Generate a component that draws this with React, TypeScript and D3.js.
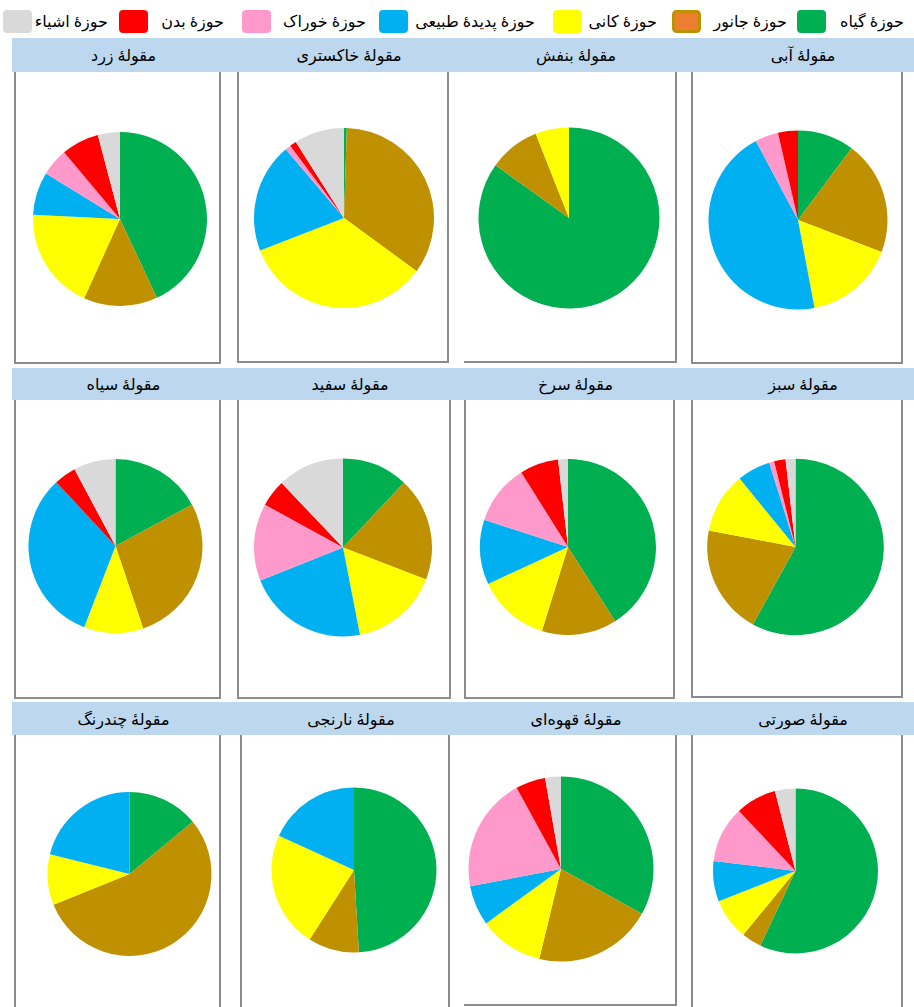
import React from 'react';
import * as d3 from 'd3';

// panels, read left-to-right, top-to-bottom
const panels = ['مقولهٔ زرد', 'مقولهٔ خاکستری', 'مقولهٔ بنفش', 'مقولهٔ آبی',
  'مقولهٔ سیاه', 'مقولهٔ سفید', 'مقولهٔ سرخ', 'مقولهٔ سبز',
  'مقولهٔ چندرنگ', 'مقولهٔ نارنجی', 'مقولهٔ قهوه‌ای', 'مقولهٔ صورتی'];

const fields = ['حوزهٔ گیاه', 'حوزهٔ جانور', 'حوزهٔ کانی', 'حوزهٔ پدیدهٔ طبیعی', 'حوزهٔ خوراک', 'حوزهٔ بدن', 'حوزهٔ اشیاء'];

// percent of each panel
const giah = [43, 0.5, 85, 10.2, 17.1, 12, 41, 58, 14, 49.1, 33, 56.9];
const janvar = [13.7, 34.6, 9.1, 20.6, 27.7, 18.8, 13.8, 20, 54.8, 10, 20.7, 3.9];
const kani = [19, 34.1, 6, 16.2, 11, 16.1, 13.3, 11.1, 10, 22.8, 11.2, 8.1];
const padideh = [8, 19.7, 0, 45.1, 32.2, 22, 11.9, 6.1, 21.1, 18.2, 7, 7.9];
const khorak = [5.1, 1, 0, 4.2, 0, 14, 11.1, 0.9, 0, 0, 20, 11];
const badan = [7, 1.2, 0, 3.6, 4.1, 4.9, 7.1, 2.1, 0, 0, 5.2, 8];
const ashya = [4.1, 9, 0, 0, 7.8, 12.1, 1.8, 1.8, 0, 0, 2.75, 4];

const series = [giah, janvar, kani, padideh, khorak, badan, ashya];

const colors = ['#00B050', '#BF9000', '#FFFF00', '#00B0F0', '#FF99CC', '#FF0000', '#D9D9D9'];

// layout
const W = 914, H = 1007;
const colX = [12, 238, 465, 692, 914];
const frameX = [
  [[15, 220], [238, 448], [464, 676], [692, 902]],
  [[15, 220], [238, 450], [465, 674], [692, 902]],
  [[15, 220], [241, 449], [464, 676], [692, 902]],
];
const bandY = [[38, 72], [368, 400], [702, 735]];
const frameBottom = [
  [363, 362, 362, 363],
  [698, 698, 698, 697],
  [1030, 1030, 1005, 1030],
];
const pieGeom = [
  [120, 219, 87], [344, 218, 90], [569, 218, 90.5], [798, 220, 89.5],
  [115.5, 546, 87], [343, 547.5, 89], [568, 547, 88], [795.5, 547, 88.3],
  [129.5, 874, 82], [354, 870, 82.5], [561, 869, 92.5], [795.5, 871, 82.5],
];
// legend slots: [text right edge, swatch left]
const legendSlots = [[904, 797], [787, 672], [657, 553], [535, 379], [366, 242], [224, 119], [108, 3]];

const font = '"Liberation Serif", "DejaVu Serif", "DejaVu Sans", serif';

export default function App() {
  const pie = d3.pie<number>().sort(null).value(d => d);
  return (
    <svg width={W} height={H} style={{ position: 'absolute', left: 0, top: 0, background: '#fff' }} fontFamily={font}>
      {/* legend */}
      {fields.map((f, i) => (
        <g key={f}>
          <rect x={legendSlots[i][1] + (i === 1 ? 1.5 : 0.5)} y={i === 1 ? 11.5 : 10.5}
            width={i === 1 ? 26 : 28} height={i === 1 ? 20 : 22} rx={3}
            fill={i === 1 ? '#ED7D31' : colors[i]} stroke={colors[i]} strokeWidth={i === 1 ? 3 : 1} />
          <text x={legendSlots[i][0]} y={27} textAnchor="end" fontSize={16} fill="#000">{f}</text>
        </g>
      ))}

      {panels.map((p, k) => {
        const row = Math.floor(k / 4), col = k % 4;
        const [fx0, fx1] = frameX[row][col];
        const [by0, by1] = bandY[row];
        const fb = frameBottom[row][col];
        const openLeft = col === 2 && row !== 1;
        const framePath = openLeft
          ? `M${fx0},${fb} H${fx1} V${by1}`
          : `M${fx0},${by1} V${fb} H${fx1} V${by1}`;
        const [cx, cy, r] = pieGeom[k];
        const vals = series.map(s => s[k]);
        const arc = d3.arc<d3.PieArcDatum<number>>().innerRadius(0).outerRadius(r);
        return (
          <g key={p}>
            <path d={framePath} fill="none" stroke="#8c8c8c" strokeWidth={2} />
            <rect x={colX[col]} y={by0} width={colX[col + 1] - colX[col]} height={by1 - by0} fill="#BDD7EE" />
            <text x={(fx0 + fx1) / 2 + 6} y={(by0 + by1) / 2 + 6} textAnchor="middle" fontSize={16} fill="#000">{p}</text>
            <g transform={`translate(${cx},${cy})`}>
              {pie(vals).map((a, i) => a.value > 0 ? (
                <path key={i} d={arc(a) || ''} fill={colors[i]} />
              ) : null)}
            </g>
          </g>
        );
      })}
    </svg>
  );
}
